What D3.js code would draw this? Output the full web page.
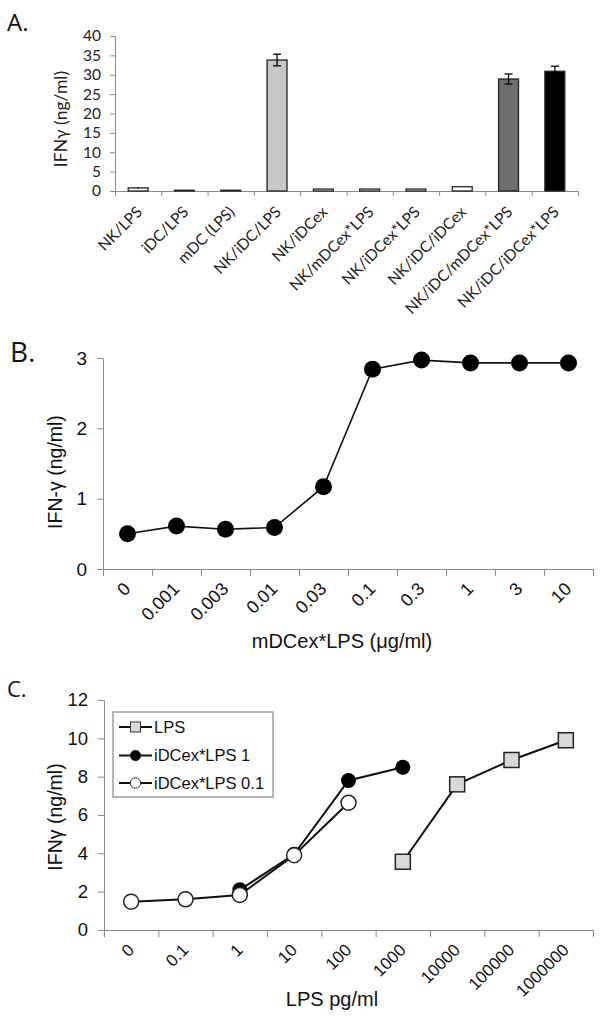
<!DOCTYPE html>
<html><head><meta charset="utf-8">
<script src="https://cdn.jsdelivr.net/npm/d3@7"></script>
<style>
body{margin:0;background:#fff;}
svg{display:block;}
.axA text{font-family:Lato,"Open Sans",sans-serif;fill:#222;}
.axB text{font-family:"Liberation Sans",Arial,sans-serif;fill:#111;}
</style></head>
<body>
<svg id="fig" width="604" height="1021"></svg>
<script>
// ---------- Panel A data ----------
const catsA = ["NK/LPS","iDC/LPS","mDC (LPS)","NK/iDC/LPS","NK/iDCex","NK/mDCex*LPS","NK/iDCex*LPS","NK/iDC/iDCex","NK/iDC/mDCex*LPS","NK/iDC/iDCex*LPS"];
const valsA = [0.8, 0.2, 0.2, 33.8, 0.5, 0.5, 0.5, 1.1, 28.9, 30.9];
const errA  = [0.2, 0, 0, 1.5, 0, 0, 0, 0, 1.3, 1.3];
const fillA = ["#fff","#fff","#fff","#c8c8c8","#fff","#fff","#fff","#fff","#6e6e6e","#000"];
const ticksA = [0,5,10,15,20,25,30,35,40];

// ---------- Panel B data ----------
const catsB = ["0","0.001","0.003","0.01","0.03","0.1","0.3","1","3","10"];
const valsB = [0.50, 0.61, 0.565, 0.59, 1.17, 2.84, 2.97, 2.93, 2.93, 2.93];
const ticksB = [0,1,2,3];

// ---------- Panel C data ----------
const catsC = ["0","0.1","1","10","100","1000","10000","100000","1000000"];
const lpsIdx = [5,6,7,8];
const lpsVals = [3.56, 7.6, 8.87, 9.9];
const dc1Idx = [2,3,4,5];
const dc1Vals = [2.1, 3.95, 7.8, 8.49];
const dc01Idx = [0,1,2,3,4];
const dc01Vals = [1.48, 1.6, 1.83, 3.9, 6.64];
const ticksC = [0,2,4,6,8,10,12];
const legendC = ["LPS","iDCex*LPS 1","iDCex*LPS 0.1"];

const svg = d3.select("#fig");
const axisGray = "#8a8a8a";
const ARIAL = "'Liberation Sans',Arial,sans-serif";
const OPEN = "'Open Sans',sans-serif";
const LATO = "Lato,'Open Sans',sans-serif";

// ================= Panel A =================
{
  const g = svg.append("g");
  const x = d3.scaleLinear().domain([0, catsA.length]).range([115, 578]);
  const y = d3.scaleLinear().domain([0, 40]).range([191, 36]);
  const step = x(1) - x(0);
  const bw = step * 0.43;

  const ya = g.append("g").attr("class","axA").attr("transform","translate(115,0)")
    .call(d3.axisLeft(y).tickValues(ticksA).tickSize(5).tickPadding(9));
  const xa = g.append("g").attr("class","axA").attr("transform","translate(0,191)")
    .call(d3.axisBottom(x).tickValues(d3.range(0, catsA.length + 1)).tickSize(5).tickFormat(""));
  [ya, xa].forEach(a => a.selectAll("path,line").attr("stroke", axisGray));
  ya.selectAll("text").style("font-size","15.5px");

  g.selectAll("rect.bar").data(valsA).join("rect").attr("class","bar")
    .attr("x",(d,i)=>x(i+0.5)-bw/2).attr("width",bw)
    .attr("y",d=>y(d)).attr("height",d=>y(0)-y(d))
    .attr("fill",(d,i)=>fillA[i]).attr("stroke","#222").attr("stroke-width",1.3);

  const eb = g.selectAll("g.err").data(valsA.map((v,i)=>({v,e:errA[i],i})).filter(d=>d.e>0)).join("g");
  eb.append("line").attr("x1",d=>x(d.i+0.5)).attr("x2",d=>x(d.i+0.5))
    .attr("y1",d=>y(d.v+d.e)).attr("y2",d=>y(d.v-d.e)).attr("stroke","#000").attr("stroke-width",1.3);
  eb.filter(d=>d.e>0.5).selectAll("line.cap").data(d=>[d.v+d.e,d.v-d.e].map(t=>({t,i:d.i}))).join("line").attr("class","cap")
    .attr("x1",d=>x(d.i+0.5)-4).attr("x2",d=>x(d.i+0.5)+4)
    .attr("y1",d=>y(d.t)).attr("y2",d=>y(d.t)).attr("stroke","#000").attr("stroke-width",1.3);

  g.selectAll("text.cat").data(catsA).join("text").attr("class","cat")
    .attr("transform",(d,i)=>`translate(${x(i+0.5)+5},${213}) rotate(-45)`)
    .attr("text-anchor","end")
    .style("font-family",LATO).style("font-size","15.5px").style("fill","#222")
    .text(d=>d);

  g.append("text").attr("transform","translate(67,119) rotate(-90)").attr("text-anchor","middle")
    .style("font-family",LATO).style("font-size","17.5px").style("fill","#222")
    .text("IFNγ (ng/ml)");
  g.append("text").attr("x",7).attr("y",31)
    .style("font-family",OPEN).style("font-size","24px").style("fill","#111").text("A.");
}

// ================= Panel B =================
{
  const g = svg.append("g");
  const x = d3.scaleLinear().domain([0, catsB.length]).range([103, 593]);
  const y = d3.scaleLinear().domain([0, 3]).range([569, 358]);

  const ya = g.append("g").attr("class","axB").attr("transform","translate(103,0)")
    .call(d3.axisLeft(y).tickValues(ticksB).tickSize(6).tickPadding(10).tickFormat(d3.format("d")));
  const xa = g.append("g").attr("class","axB").attr("transform","translate(0,569)")
    .call(d3.axisBottom(x).tickValues(d3.range(0, catsB.length + 1)).tickSize(7).tickFormat(""));
  [ya, xa].forEach(a => a.selectAll("path,line").attr("stroke", axisGray));
  ya.selectAll("text").style("font-size","19px");

  g.selectAll("text.cat").data(catsB).join("text").attr("class","cat")
    .attr("transform",(d,i)=>`translate(${x(i+0.5)+4},${590}) rotate(-45)`)
    .attr("text-anchor","end")
    .style("font-family",ARIAL).style("font-size","18px").style("fill","#111")
    .text(d=>d);

  const line = d3.line().x((d,i)=>x(i+0.5)).y(d=>y(d));
  g.append("path").datum(valsB).attr("d",line).attr("fill","none").attr("stroke","#111").attr("stroke-width",1.6);
  g.selectAll("circle").data(valsB).join("circle")
    .attr("cx",(d,i)=>x(i+0.5)).attr("cy",d=>y(d)).attr("r",8.5).attr("fill","#000");

  g.append("text").attr("transform","translate(62,472) rotate(-90)").attr("text-anchor","middle")
    .style("font-family",ARIAL).style("font-size","19.5px").style("fill","#111")
    .text("IFN-γ (ng/ml)");
  g.append("text").attr("x",342).attr("y",648).attr("text-anchor","middle")
    .style("font-family",ARIAL).style("font-size","20px").style("fill","#111")
    .text("mDCex*LPS (μg/ml)");
  g.append("text").attr("x",10).attr("y",362)
    .style("font-family",OPEN).style("font-size","28px").style("fill","#111").text("B.");
}

// ================= Panel C =================
{
  const g = svg.append("g");
  const x = d3.scaleLinear().domain([0, catsC.length]).range([104, 593]);
  const y = d3.scaleLinear().domain([0, 12]).range([930, 700]);

  const ya = g.append("g").attr("class","axB").attr("transform","translate(104,0)")
    .call(d3.axisLeft(y).tickValues(ticksC).tickSize(6).tickPadding(10).tickFormat(d3.format("d")));
  const xa = g.append("g").attr("class","axB").attr("transform","translate(0,930)")
    .call(d3.axisBottom(x).tickValues(d3.range(0, catsC.length + 1)).tickSize(7).tickFormat(""));
  [ya, xa].forEach(a => a.selectAll("path,line").attr("stroke", axisGray));
  ya.selectAll("text").style("font-size","18.5px");

  g.selectAll("text.cat").data(catsC).join("text").attr("class","cat")
    .attr("transform",(d,i)=>`translate(${x(i+0.5)+4},${951}) rotate(-45)`)
    .attr("text-anchor","end")
    .style("font-family",ARIAL).style("font-size","17px").style("fill","#111")
    .text(d=>d);

  const line = d3.line().x(d=>x(d[0]+0.5)).y(d=>y(d[1]));
  const sLps = lpsIdx.map((k,i)=>[k,lpsVals[i]]);
  const sDc1 = dc1Idx.map((k,i)=>[k,dc1Vals[i]]);
  const sDc01 = dc01Idx.map((k,i)=>[k,dc01Vals[i]]);
  [sLps, sDc1, sDc01].forEach(s => g.append("path").datum(s).attr("d",line)
    .attr("fill","none").attr("stroke","#111").attr("stroke-width",2));

  const sq = 15;
  g.selectAll("rect.lps").data(sLps).join("rect").attr("class","lps")
    .attr("x",d=>x(d[0]+0.5)-sq/2).attr("y",d=>y(d[1])-sq/2).attr("width",sq).attr("height",sq)
    .attr("fill","#d9d9d9").attr("stroke","#222").attr("stroke-width",1.5);
  g.selectAll("circle.dc1").data(sDc1).join("circle").attr("class","dc1")
    .attr("cx",d=>x(d[0]+0.5)).attr("cy",d=>y(d[1])).attr("r",7.5).attr("fill","#000");
  g.selectAll("circle.dc01").data(sDc01).join("circle").attr("class","dc01")
    .attr("cx",d=>x(d[0]+0.5)).attr("cy",d=>y(d[1])).attr("r",7.5)
    .attr("fill","#fff").attr("stroke","#222").attr("stroke-width",1.5);

  // legend
  const lg = g.append("g");
  lg.append("rect").attr("x",113).attr("y",712).attr("width",160).attr("height",85)
    .attr("fill","#fff").attr("stroke","#888").attr("stroke-width",1.2);
  const rows = [727, 755.5, 783];
  legendC.forEach((t,i) => {
    const yy = rows[i];
    lg.append("line").attr("x1",119).attr("x2",152).attr("y1",yy).attr("y2",yy).attr("stroke","#111").attr("stroke-width",2);
    if (i===0) lg.append("rect").attr("x",130.5).attr("y",yy-5).attr("width",10).attr("height",10).attr("fill","#d9d9d9").attr("stroke","#333");
    else lg.append("circle").attr("cx",135.5).attr("cy",yy).attr("r",5.2).attr("fill",i===1?"#000":"#fff").attr("stroke","#333").attr("stroke-width",1);
    lg.append("text").attr("x",154).attr("y",yy).attr("dy","0.35em")
      .style("font-family",ARIAL).style("font-size","16.5px").style("fill","#111").text(t);
  });

  g.append("text").attr("transform","translate(62,817) rotate(-90)").attr("text-anchor","middle")
    .style("font-family",ARIAL).style("font-size","19.5px").style("fill","#111")
    .text("IFNγ (ng/ml)");
  g.append("text").attr("x",332).attr("y",1006).attr("text-anchor","middle")
    .style("font-family",ARIAL).style("font-size","20px").style("fill","#111")
    .text("LPS pg/ml");
  g.append("text").attr("x",7).attr("y",697)
    .style("font-family",OPEN).style("font-size","22px").style("fill","#111").text("C.");
}
</script>
</body></html>
